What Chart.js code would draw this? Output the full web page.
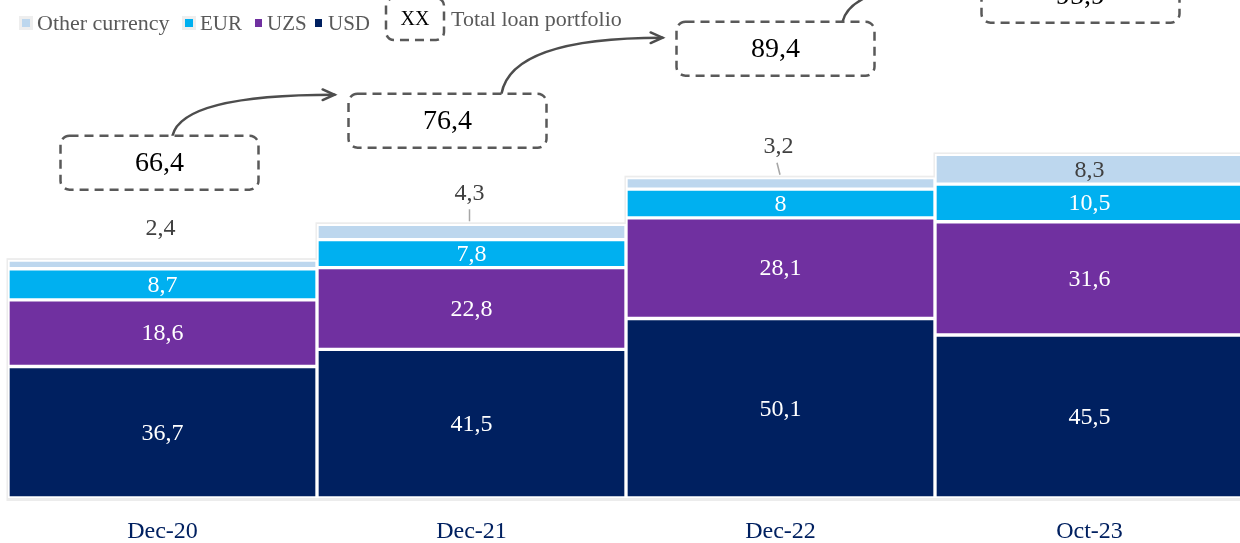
<!DOCTYPE html>
<html>
<head>
<meta charset="utf-8">
<script src="https://cdn.jsdelivr.net/npm/chart.js@4/dist/chart.umd.min.js"></script>
<style>
  html, body { margin: 0; padding: 0; background: #fff; overflow: hidden; }
  #wrap { position: relative; width: 1244px; height: 543px; }
</style>
</head>
<body>
<div id="wrap"><canvas id="c" width="1244" height="543"></canvas></div>
<script>
// Loan portfolio by currency, trillion UZS
const categories = ['Dec-20', 'Dec-21', 'Dec-22', 'Oct-23'];
const usd       = [36.7, 41.5, 50.1, 45.5];
const uzs       = [18.6, 22.8, 28.1, 31.6];
const eur       = [8.7, 7.8, 8.0, 10.5];
const otherCcy  = [2.4, 4.3, 3.2, 8.3];
const totals    = [66.4, 76.4, 89.4, 95.9];

// Layout of the total-portfolio callouts (axis units / pixel shifts)
const calloutLevel = [93.6, 105.3, 125.4, 140.2];
const calloutShift = [-3, -24, -5, -9];
const arrowStart   = [13, 54, 67];
const arrowTipDrop = [1, 16, 14];
const otherLeader  = [false, true, true, false];

// Legend row layout (pixels)
const legendMarkX = [22, 185, 255, 315];
const legendTextX = [37, 200, 267, 328];
const legendKeyX  = 386;
const legendNoteX = 451;

const SERIF = '"Liberation Serif", "DejaVu Serif", serif';
const fmt = v => String(v).replace('.', ',');

// light grey rim around every stacked column
const stackRim = {
  id: 'stackRim',
  beforeDatasetsDraw(chart) {
    const ctx = chart.ctx;
    const last = chart.data.datasets.length - 1;
    ctx.save();
    ctx.strokeStyle = '#ECECEC';
    ctx.lineWidth = 4;
    chart.getDatasetMeta(last).data.forEach((top, i) => {
      const bottom = chart.getDatasetMeta(0).data[i];
      const x0 = top.x - top.width / 2;
      ctx.strokeRect(x0 + 0.5, top.y, top.width - 1, bottom.base - top.y + 1);
    });
    ctx.restore();
  }
};

// value labels on each segment
const segmentLabels = {
  id: 'segmentLabels',
  afterDatasetsDraw(chart) {
    const ctx = chart.ctx;
    const last = chart.data.datasets.length - 1;
    ctx.save();
    ctx.textAlign = 'center';
    ctx.textBaseline = 'middle';
    chart.data.datasets.forEach((ds, di) => {
      chart.getDatasetMeta(di).data.forEach((el, i) => {
        const v = ds.data[i];
        const h = el.base - el.y;
        ctx.font = '24px ' + SERIF;
        if (di < last) {
          ctx.fillStyle = '#FFFFFF';
          ctx.fillText(fmt(v), el.x, (el.y + el.base) / 2 + 1);
        } else if (h > 24) {
          ctx.fillStyle = '#404040';
          ctx.fillText(fmt(v), el.x, (el.y + el.base) / 2 + 1);
        } else {
          const ly = el.y - 31;
          ctx.fillStyle = '#404040';
          ctx.fillText(fmt(v), el.x - 2, ly);
          if (otherLeader[i]) {
            ctx.strokeStyle = '#A6A6A6';
            ctx.lineWidth = 1.5;
            ctx.beginPath();
            ctx.moveTo(el.x - 2 - (i === 2 ? 1.5 : 0), ly + 16);
            ctx.lineTo(el.x - 2 + (i === 2 ? 1.5 : 0), el.y - 3);
            ctx.stroke();
          }
        }
      });
    });
    ctx.restore();
  }
};

function dashedBox(ctx, x, y, w, h, r) {
  ctx.beginPath();
  ctx.roundRect(x, y, w, h, r);
  ctx.stroke();
}

// total-portfolio callouts, connecting arrows and the legend row
const callouts = {
  id: 'callouts',
  afterDraw(chart) {
    const ctx = chart.ctx;
    const xs = chart.scales.x, ys = chart.scales.y;
    const W = 198, H = 54;
    const boxes = totals.map((t, i) => {
      const cx = xs.getPixelForValue(i) + calloutShift[i];
      const cy = ys.getPixelForValue(calloutLevel[i]);
      return { cx, cy, l: cx - W / 2, t: cy - H / 2 };
    });
    ctx.save();
    // arrows
    ctx.strokeStyle = '#4D4D4D';
    ctx.lineWidth = 2.5;
    ctx.lineCap = 'round';
    ctx.setLineDash([]);
    for (let i = 0; i < boxes.length - 1; i++) {
      const a = boxes[i], b = boxes[i + 1];
      const sx = a.cx + arrowStart[i], sy = a.t;
      const ex = b.l - 14, ey = b.t + arrowTipDrop[i];
      const cx = sx + 10, cy = ey;
      ctx.beginPath();
      ctx.moveTo(sx, sy);
      ctx.quadraticCurveTo(cx, cy, ex, ey);
      ctx.stroke();
      const ang = Math.atan2(ey - cy, ex - cx);
      const L = 13, sp = 0.42;
      ctx.beginPath();
      ctx.moveTo(ex - L * Math.cos(ang - sp), ey - L * Math.sin(ang - sp));
      ctx.lineTo(ex, ey);
      ctx.lineTo(ex - L * Math.cos(ang + sp), ey - L * Math.sin(ang + sp));
      ctx.stroke();
    }
    // boxes
    ctx.lineCap = 'butt';
    ctx.strokeStyle = '#595959';
    ctx.lineWidth = 2.5;
    ctx.setLineDash([9, 6]);
    boxes.forEach((b, i) => {
      ctx.fillStyle = '#FFFFFF';
      ctx.beginPath();
      ctx.roundRect(b.l, b.t, W, H, 9);
      ctx.fill();
      dashedBox(ctx, b.l, b.t, W, H, 9);
      ctx.fillStyle = '#000000';
      ctx.font = '28px ' + SERIF;
      ctx.textAlign = 'center';
      ctx.textBaseline = 'middle';
      ctx.fillText(fmt(totals[i]), b.cx, b.cy + 1);
    });

    // legend
    ctx.setLineDash([]);
    ctx.textAlign = 'left';
    ctx.textBaseline = 'middle';
    const ds = chart.data.datasets.slice().reverse();
    const ly = 23;
    ds.forEach((d, k) => {
      const x = legendMarkX[k];
      if (k < 2) {
        ctx.fillStyle = '#EEEEEE';
        ctx.fillRect(x - 3, ly - 7, 14, 14);
        ctx.fillStyle = d.backgroundColor;
        ctx.fillRect(x, ly - 4, 8, 8);
      } else {
        ctx.fillStyle = d.backgroundColor;
        ctx.fillRect(x, ly - 4, 7, 8);
      }
      ctx.fillStyle = '#595959';
      ctx.font = (k === 0 ? '22px ' : '21px ') + SERIF;
      ctx.fillText(d.label, legendTextX[k], ly + 1);
    });
    ctx.strokeStyle = '#595959';
    ctx.lineWidth = 2.5;
    ctx.setLineDash([9, 6]);
    dashedBox(ctx, legendKeyX, -2, 58, 42, 8);
    ctx.setLineDash([]);
    ctx.fillStyle = '#000000';
    ctx.font = '20px ' + SERIF;
    ctx.textAlign = 'center';
    ctx.fillText('XX', legendKeyX + 29, 20);
    ctx.textAlign = 'left';
    ctx.fillStyle = '#595959';
    ctx.font = '22px ' + SERIF;
    ctx.fillText('Total loan portfolio', legendNoteX, 20);
    ctx.restore();
  }
};

new Chart(document.getElementById('c'), {
  type: 'bar',
  data: {
    labels: categories,
    datasets: [
      { label: 'USD', data: usd, backgroundColor: '#002060' },
      { label: 'UZS', data: uzs, backgroundColor: '#7030A0' },
      { label: 'EUR', data: eur, backgroundColor: '#00B0F0' },
      { label: 'Other currency', data: otherCcy, backgroundColor: '#BDD7EE' }
    ]
  },
  options: {
    responsive: false,
    animation: false,
    devicePixelRatio: 1,
    layout: { padding: { left: 8, right: 0, top: 0, bottom: 0 } },
    datasets: {
      bar: {
        borderColor: '#FFFFFF',
        borderWidth: 2,
        borderSkipped: false,
        categoryPercentage: 1,
        barPercentage: 1
      }
    },
    plugins: { legend: { display: false }, tooltip: { enabled: false } },
    scales: {
      x: {
        stacked: true,
        grid: { display: false, drawTicks: false },
        border: { display: false },
        ticks: { color: '#002060', font: { family: SERIF, size: 24 }, padding: 19 },
        afterFit(scale) { scale.height = 45; }
      },
      y: { stacked: true, display: false, min: 0, max: 139 }
    }
  },
  plugins: [stackRim, segmentLabels, callouts]
});
</script>
</body>
</html>
